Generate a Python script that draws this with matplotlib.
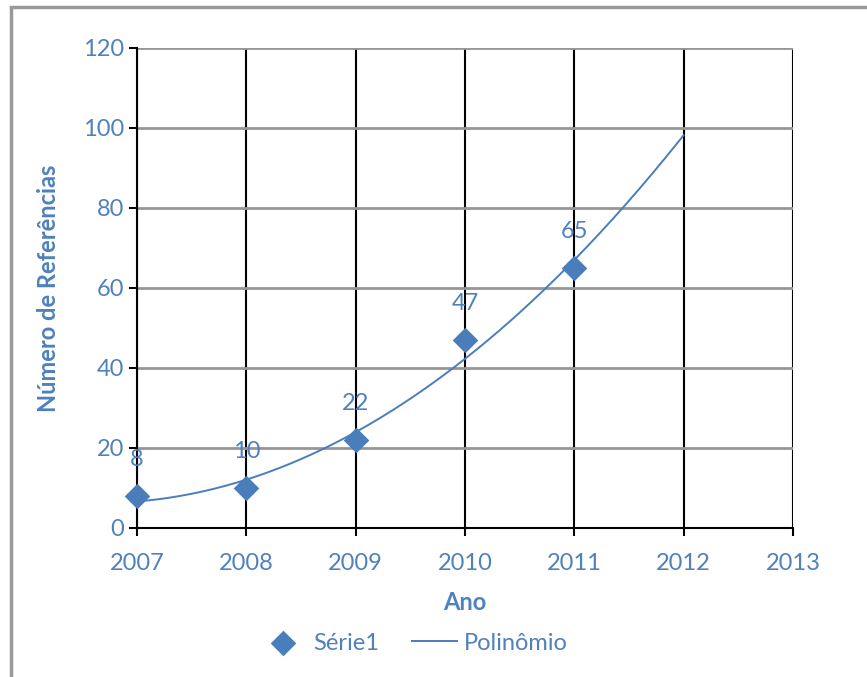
import numpy as np
import matplotlib
matplotlib.use("Agg")
import matplotlib.pyplot as plt
from matplotlib.patches import Rectangle

plt.rcParams['font.family'] = ['Lato', 'DejaVu Sans']

anos = [2007, 2008, 2009, 2010, 2011]
referencias = [8, 10, 22, 47, 65]
anos_ticks = [2007, 2008, 2009, 2010, 2011, 2012, 2013]
y_ticks = [0, 20, 40, 60, 80, 100, 120]

azul = "#4A7EBB"
texto = "#4F81BD"

fig = plt.figure(figsize=(8.67, 6.77), dpi=100)
ax = fig.add_axes([0.158, 0.2201, 0.7566, 0.709])

# linha de tendência polinomial (ordem 2), estendida até 2012
coef = np.polyfit(np.array(anos) - anos[0], referencias, 2)
xt = np.linspace(anos[0], 2012, 200)
ax.plot(xt, np.polyval(coef, xt - anos[0]), color=azul, lw=1.4, label="Polinômio", zorder=3)

ax.scatter(anos, referencias, marker="D", s=170, color=azul, label="Série1", zorder=4,
           linewidths=0, clip_on=False)

for a, r in zip(anos, referencias):
    ax.annotate(str(r), (a, r), xytext=(0, 26), textcoords="offset points",
                ha="center", va="center", color=texto, fontsize=17)

ax.set_xlim(2007, 2013)
ax.set_ylim(0, 120)
ax.set_xticks(anos_ticks)
ax.set_yticks(y_ticks)
ax.tick_params(axis="both", colors="black", labelcolor=texto, labelsize=17,
               length=6, width=1.5, direction="out")
ax.tick_params(axis="x", pad=12)

ax.set_axisbelow(True)
ax.grid(axis="y", color="#969696", lw=2)
ax.grid(axis="x", color="black", lw=1.5)
for s in ["top", "right"]:
    ax.spines[s].set_visible(False)
for s in ["left", "bottom"]:
    ax.spines[s].set_linewidth(1.5)

ax.set_xlabel("Ano", color=texto, fontsize=17, fontweight="bold", labelpad=12)
ax.set_ylabel("Número de Referências", color=texto, fontsize=17, fontweight="bold", labelpad=16)

h, l = ax.get_legend_handles_labels()
fig.legend(h[::-1], l[::-1], loc="center", bbox_to_anchor=(0.478, 0.05), ncol=2,
           frameon=False, fontsize=17, labelcolor=texto, handlelength=1.9,
           columnspacing=1.4, handletextpad=0.3)

# moldura cinza do gráfico
fig.patches.append(Rectangle((11 / 867, -0.05), 1.0, 1 - 7 / 677 + 0.05,
                             transform=fig.transFigure, fill=False,
                             edgecolor="#999999", lw=2.5))

fig.savefig("out.png", dpi=100)
